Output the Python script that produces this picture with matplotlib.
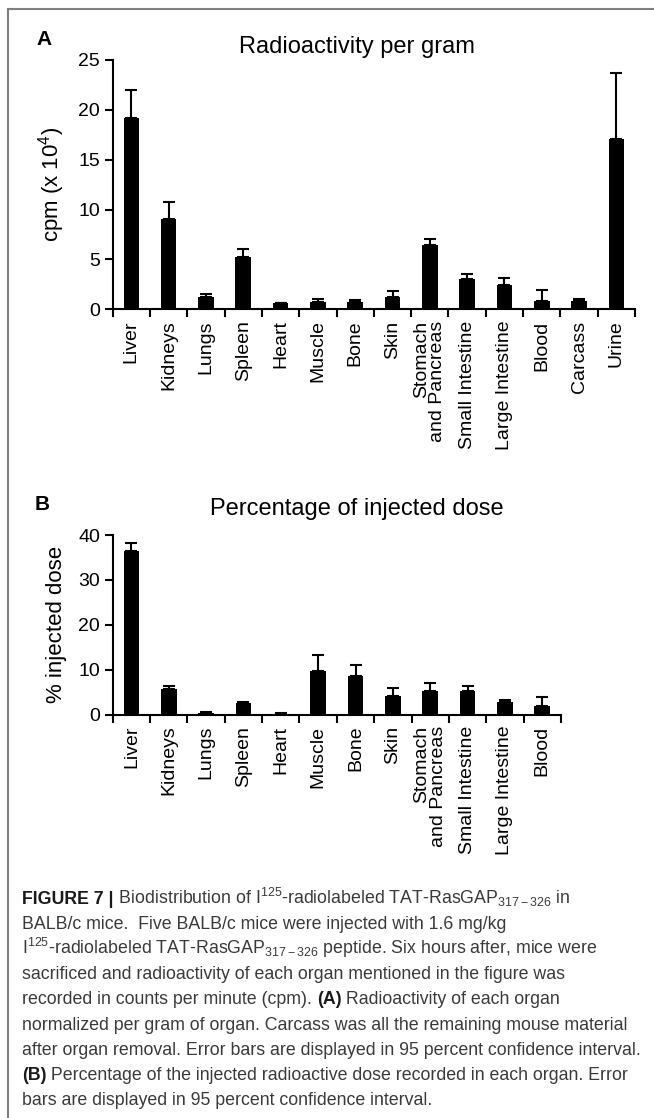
"""
Biodistribution of I125-radiolabeled TAT-RasGAP317-326 (Figure 7)
"""

import matplotlib
matplotlib.use("Agg")
import matplotlib.pyplot as plt
from matplotlib.lines import Line2D
import numpy as np


# ---------------------------------------------------------------------
# Data
# ---------------------------------------------------------------------

ORGANS_A = [
    "Liver", "Kidneys", "Lungs", "Spleen", "Heart", "Muscle", "Bone", "Skin",
    "Stomach\nand Pancreas", "Small Intestine", "Large Intestine", "Blood",
    "Carcass", "Urine",
]
CPM_MEAN = [19.2, 9.1, 1.25, 5.2, 0.6, 0.7, 0.7, 1.2, 6.4, 3.0, 2.45, 0.85, 0.85, 17.1]
CPM_ERR = [2.8, 1.7, 0.3, 0.85, 0.08, 0.35, 0.27, 0.64, 0.65, 0.58, 0.73, 1.05, 0.15, 6.56]

ORGANS_B = ORGANS_A[:12]
DOSE_MEAN = [36.5, 5.8, 0.3, 2.5, 0.15, 9.7, 8.7, 4.1, 5.3, 5.15, 2.85, 2.0]
DOSE_ERR = [1.7, 0.55, 0.2, 0.3, 0.15, 3.6, 2.3, 1.8, 1.7, 1.15, 0.5, 2.0]

CAPTION = [
    [("FIGURE 7 |", "bold"), (" Biodistribution of I$^{125}$-radiolabeled TAT-RasGAP$_{317-326}$ in", "normal")],
    [("BALB/c mice.  Five BALB/c mice were injected with 1.6 mg/kg", "normal")],
    [("I$^{125}$-radiolabeled TAT-RasGAP$_{317-326}$ peptide. Six hours after, mice were", "normal")],
    [("sacrificed and radioactivity of each organ mentioned in the figure was", "normal")],
    [("recorded in counts per minute (cpm). ", "normal"), ("(A)", "bold"), (" Radioactivity of each organ", "normal")],
    [("normalized per gram of organ. Carcass was all the remaining mouse material", "normal")],
    [("after organ removal. Error bars are displayed in 95 percent confidence interval.", "normal")],
    [("(B)", "bold"), (" Percentage of the injected radioactive dose recorded in each organ. Error", "normal")],
    [("bars are displayed in 95 percent confidence interval.", "normal")],
]

W, H = 654, 1118

plt.rcParams["font.family"] = ["Liberation Sans", "DejaVu Sans"]
plt.rcParams["mathtext.fontset"] = "custom"
plt.rcParams["mathtext.rm"] = "Liberation Sans"
plt.rcParams["mathtext.it"] = "Liberation Sans"
plt.rcParams["mathtext.bf"] = "Liberation Sans:bold"


def px(x, y):
    return x / W, 1 - y / H


def bar_panel(ax, labels, means, errs, ymax, yticks, ylabel, label_x):
    n = len(labels)
    x = np.arange(n)
    ax.bar(x, means, width=0.42, color="black", zorder=2)
    ax.errorbar(x, np.array(means), yerr=[np.zeros(n), errs], fmt="none",
                ecolor="black", elinewidth=1.5, capsize=4.5, capthick=1.5, zorder=1)
    ax.set_xlim(-0.5, n - 0.5)
    ax.set_ylim(0, ymax)
    ax.set_yticks(yticks)
    ax.spines["top"].set_visible(False)
    ax.spines["right"].set_visible(False)
    for s in ("left", "bottom"):
        ax.spines[s].set_linewidth(1.5)
    ax.set_xticks(np.arange(-0.5, n, 1))
    ax.set_xticklabels([])
    ax.set_xticks(x, minor=True)
    ax.set_xticklabels(labels, minor=True, rotation=90, fontsize=14,
                       ha="center", va="top", multialignment="right",
                       linespacing=0.95)
    ax.tick_params(axis="x", which="major", direction="out", length=6, width=1.5)
    ax.tick_params(axis="x", which="minor", length=0, pad=8)
    ax.tick_params(axis="y", direction="out", length=6, width=1.5, labelsize=14, pad=3)
    ax.set_ylabel(ylabel, fontsize=16)
    ax.yaxis.set_label_coords(label_x, 0.5)


def draw_caption(fig, renderer, size=12.8):
    x0, y0, step = 22, 904, 25.1
    for i, line in enumerate(CAPTION):
        xc = x0
        for text, weight in line:
            t = fig.text(*px(xc, y0 + i * step), text, fontsize=size,
                         fontweight=weight, color="#3a3a3a" if weight == "normal" else "#1a1a1a",
                         ha="left", va="baseline")
            xc += t.get_window_extent(renderer).width


def main():
    fig = plt.figure(figsize=(W / 100, H / 100), dpi=100)

    # frame lines (top and left)
    fig.add_artist(Line2D([8 / W, 1], [1 - 9 / H, 1 - 9 / H], color="#808080", lw=1.5,
                          transform=fig.transFigure))
    fig.add_artist(Line2D([8 / W, 8 / W], [1 - 9 / H, 0], color="#808080", lw=1.5,
                          transform=fig.transFigure))

    ax_a = fig.add_axes([112.7 / W, 1 - 309.3 / H, (635 - 112.7) / W, (309.3 - 60) / H])
    bar_panel(ax_a, ORGANS_A, CPM_MEAN, CPM_ERR, 25, [0, 5, 10, 15, 20, 25],
              "cpm (x 10$^{4}$)", -0.088)

    ax_b = fig.add_axes([112.7 / W, 1 - 714.6 / H, (561 - 112.7) / W, (714.6 - 535) / H])
    bar_panel(ax_b, ORGANS_B, DOSE_MEAN, DOSE_ERR, 40, [0, 10, 20, 30, 40],
              "% injected dose", -0.102)

    fig.text(*px(36, 45), "A", fontsize=15, fontweight="bold", va="baseline")
    fig.text(*px(357, 53), "Radioactivity per gram", fontsize=17, ha="center", va="baseline")
    fig.text(*px(35, 510), "B", fontsize=15, fontweight="bold", va="baseline")
    fig.text(*px(357, 515), "Percentage of injected dose", fontsize=17, ha="center", va="baseline")

    renderer = fig.canvas.get_renderer()
    draw_caption(fig, renderer)

    fig.savefig("out.png", dpi=100)


if __name__ == "__main__":
    main()
